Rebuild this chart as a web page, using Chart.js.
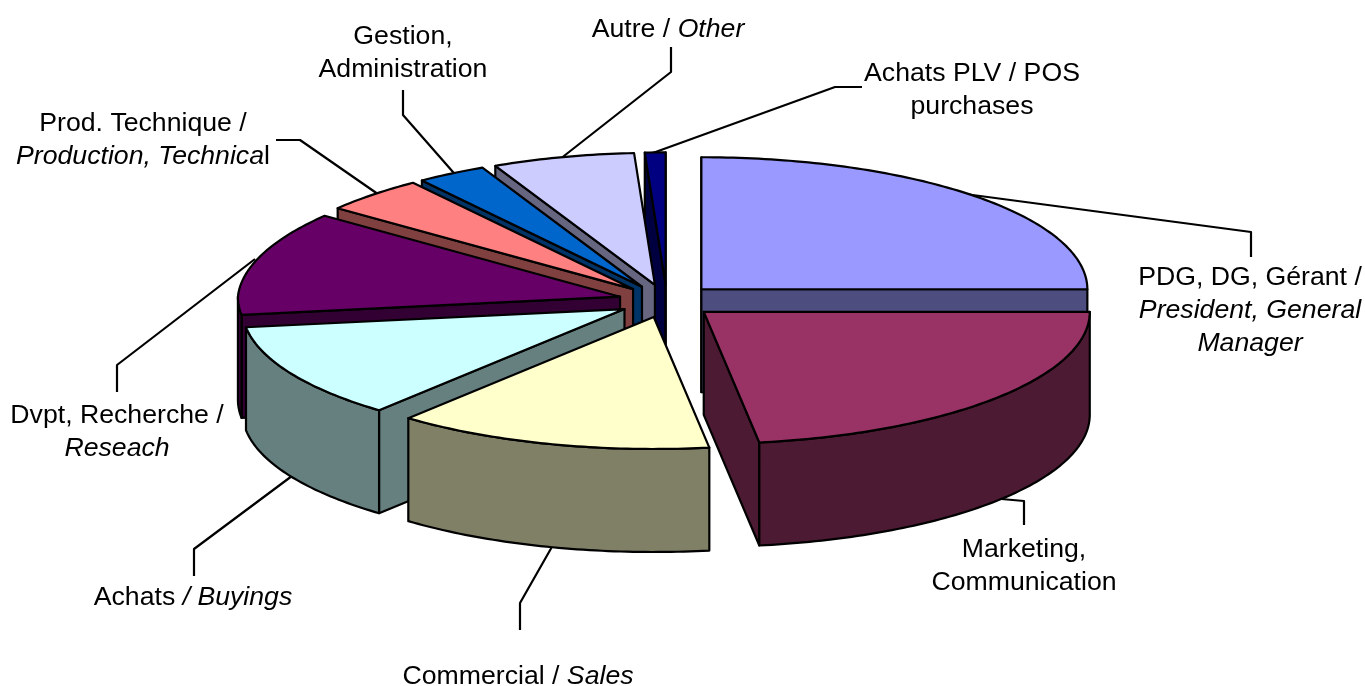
<!DOCTYPE html>
<html>
<head>
<meta charset="utf-8">
<title>Fonctions</title>
<script src="https://cdn.jsdelivr.net/npm/chart.js@4"></script>
<style>
    body { margin: 0; background: white; }
    canvas { display: block; }
</style>
</head>
<body>
<canvas id="myChart" width="1365" height="686"></canvas>
<script>
// values (% of respondents)
const categories = ['PDG, DG, Gérant', 'Marketing, Communication', 'Commercial', 'Achats', 'Dvpt, Recherche',
    'Prod. Technique', 'Gestion, Administration', 'Autre', 'Achats PLV'];
const shares = [25, 22.7, 13.4, 11.7, 12.7, 4.4, 3, 6.2, 0.9];
const topColors = ['#9999FF', '#993366', '#FFFFCC', '#CCFFFF', '#660066', '#FF8080', '#0066CC', '#CCCCFF', '#000080'];
const sideColors = ['#4D4D80', '#4D1A33', '#808066', '#668080', '#330033', '#804040', '#003366', '#666680', '#000040'];

// back to front
const drawOrder = [8, 7, 6, 5, 4, 0, 3, 1, 2];

// the tilted pie on the page
const pieX = 667;
const pieY = 301;
const pieRx = 386;
const pieRy = 132;
const pieDepth = 103;
const explode = 40.5;

// text pieces: [text, italic]
const labels = [
    { x: 1250, y: 285, lines: [[['PDG, DG, Gérant /', false]], [['President, General', true]], [['Manager', true]]] },
    { x: 1024, y: 557, lines: [[['Marketing,', false]], [['Communication', false]]] },
    { x: 518, y: 684, lines: [[['Commercial / ', false], ['Sales', true]]] },
    { x: 193, y: 605, lines: [[['Achats ', false], ['/ Buyings', true]]] },
    { x: 117, y: 423, lines: [[['Dvpt, Recherche /', false]], [['Reseach', true]]] },
    { x: 143, y: 131, lines: [[['Prod. Technique /', false]], [['Production, Technica', true], ['l', false]]] },
    { x: 403, y: 44, lines: [[['Gestion,', false]], [['Administration', false]]] },
    { x: 668, y: 37, lines: [[['Autre / ', false], ['Other', true]]] },
    { x: 972, y: 81, lines: [[['Achats PLV / POS', false]], [['purchases', false]]] }
];
const leaders = [
    [[1251, 257], [1251, 232], [950, 192]],
    [[1024, 525], [1024, 501], [990, 498]],
    [[520, 630], [520, 603], [553, 545]],
    [[194, 576], [194, 549], [300, 470]],
    [[117, 392], [117, 365], [255, 259]],
    [[276, 140], [300, 140], [385, 199]],
    [[403, 90], [403, 115], [460, 180]],
    [[671, 47], [671, 72], [555, 163]],
    [[862, 87], [835, 87], [650, 154]]
];

// the far left of the pie looks a little narrower (perspective of the original)
function rimPoint(x, y, a) {
    const c = Math.cos(a);
    const s = Math.sin(a);
    const squeeze = c < 0 ? 0.99 + 0.035 * Math.min(s, 0) : 1;
    return [x + c * pieRx * squeeze, y + s * pieRy];
}

function traceRim(ctx, x, y, from, to) {
    const steps = Math.ceil(Math.abs(to - from) * 60);
    for (let n = 0; n <= steps; n++) {
        const p = rimPoint(x, y, from + (to - from) * n / steps);
        ctx.lineTo(p[0], p[1]);
    }
}

function shape(ctx, fill, build) {
    ctx.beginPath();
    build();
    ctx.closePath();
    ctx.fillStyle = fill;
    ctx.fill();
    ctx.stroke();
}

function drawCutFace(ctx, x, y, a, side) {
    const e = rimPoint(x, y, a);
    shape(ctx, side, function() {
        ctx.moveTo(x, y);
        ctx.lineTo(e[0], e[1]);
        ctx.lineTo(e[0], e[1] + pieDepth);
        ctx.lineTo(x, y + pieDepth);
    });
}

function drawSlice(ctx, arc, i) {
    const a0 = arc.startAngle;
    const a1 = arc.endAngle;
    const mid = (a0 + a1) / 2;
    const unit = arc.options.offset / arc.outerRadius;
    const x = pieX + Math.cos(mid) * unit * pieRx;
    const y = pieY + Math.sin(mid) * unit * pieRy;
    const side = sideColors[i];

    // cut faces, only those turned to the viewer
    if (Math.cos(a0) < 1e-9) drawCutFace(ctx, x, y, a0, side);
    if (Math.cos(a1) > -1e-9) drawCutFace(ctx, x, y, a1, side);

    // rim, only the part facing us
    const lo = Math.max(a0, 0);
    const hi = Math.min(a1, Math.PI);
    if (lo < hi) {
        shape(ctx, side, function() {
            traceRim(ctx, x, y, lo, hi);
            traceRim(ctx, x, y + pieDepth, hi, lo);
        });
    }

    shape(ctx, topColors[i], function() {
        ctx.moveTo(x, y);
        traceRim(ctx, x, y, a0, a1);
    });
}

const tiltedPie = {
    id: 'tiltedPie',
    beforeDatasetsDraw(chart) {
        const ctx = chart.ctx;
        const arcs = chart.getDatasetMeta(0).data;
        ctx.save();
        ctx.lineWidth = 2.2;
        ctx.lineJoin = 'round';
        ctx.strokeStyle = 'black';

        // leader lines go under the pie
        leaders.forEach(function(pts) {
            ctx.beginPath();
            pts.forEach(function(p, n) {
                if (n == 0) ctx.moveTo(p[0], p[1]);
                else ctx.lineTo(p[0], p[1]);
            });
            ctx.stroke();
        });

        drawOrder.forEach(function(i) {
            drawSlice(ctx, arcs[i], i);
        });
        ctx.restore();
        return false;
    },
    afterDraw(chart) {
        const ctx = chart.ctx;
        ctx.save();
        ctx.fillStyle = 'black';
        ctx.textBaseline = 'alphabetic';
        labels.forEach(function(label) {
            label.lines.forEach(function(line, n) {
                const fonts = line.map(function(part) {
                    return (part[1] ? 'italic ' : '') + '26.67px "Liberation Sans"';
                });
                let width = 0;
                line.forEach(function(part, k) {
                    ctx.font = fonts[k];
                    width += ctx.measureText(part[0]).width;
                });
                let tx = label.x - width / 2;
                line.forEach(function(part, k) {
                    ctx.font = fonts[k];
                    ctx.fillText(part[0], tx, label.y + n * 33);
                    tx += ctx.measureText(part[0]).width;
                });
            });
        });
        ctx.restore();
    }
};

const myChart = new Chart(document.getElementById('myChart'), {
    type: 'pie',
    data: {
        labels: categories,
        datasets: [{
            data: shares,
            backgroundColor: topColors,
            borderColor: 'black',
            borderWidth: 2,
            offset: explode
        }]
    },
    options: {
        responsive: false,
        animation: false,
        plugins: {
            legend: { display: false },
            tooltip: { enabled: false }
        }
    },
    plugins: [tiltedPie]
});
</script>
</body>
</html>
